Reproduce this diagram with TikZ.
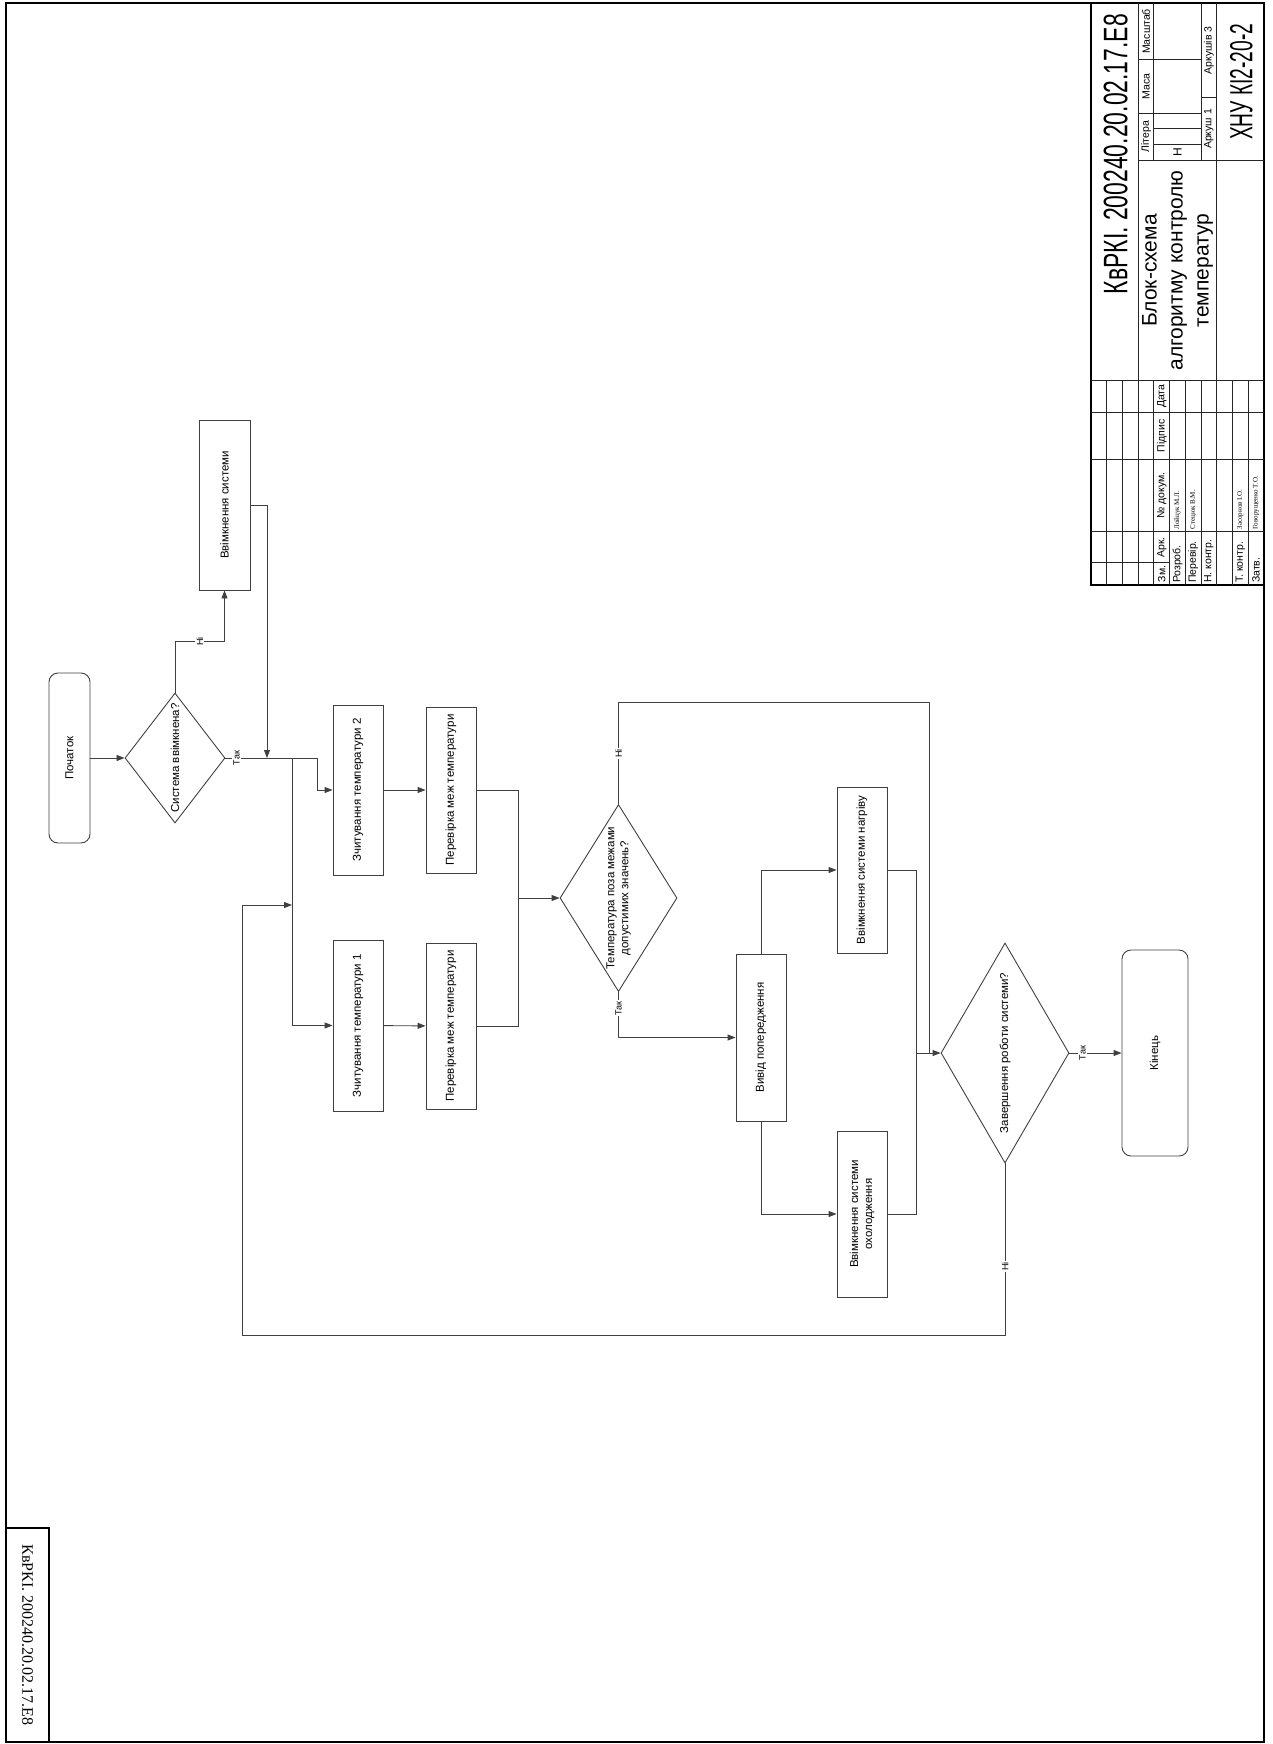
\documentclass[tikz,border=0pt]{standalone}
\usepackage{fontspec}
\usepackage{graphicx}
\setmainfont{Liberation Sans}
\newfontfamily\serifname{Liberation Serif}
\usetikzlibrary{shapes.geometric,arrows.meta}

\tikzset{
  block/.style={draw=black!75, line width=0.9pt, rotate=90, minimum width=170pt,
    minimum height=50pt, align=center, inner sep=2pt, font=\fontsize{11.5}{14}\selectfont},
  term/.style={block, rounded corners=9pt},
  decision/.style={draw=black!75, line width=0.9pt, diamond, rotate=90, inner sep=0pt,
    align=center, font=\fontsize{11.5}{14}\selectfont},
  line/.style={draw=black!75, line width=0.9pt},
  arrow/.style={line, -{Triangle[length=8pt,width=6pt]}},
  lbl/.style={rotate=90, fill=white, inner sep=1pt, font=\fontsize{9}{9}\selectfont},
  cell/.style={rotate=90, inner sep=0pt, font=\fontsize{10.5}{11}\selectfont},
  person/.style={cell, anchor=west, font=\serifname\fontsize{7}{8}\selectfont},
  sheet/.style={draw=black, line width=1.6pt},
  grid line/.style={draw=black!85, line width=1pt}
}

\begin{document}
\begin{tikzpicture}[x=1pt, y={(0pt,-1pt)}]
  \useasboundingbox (0,0) rectangle (1273,1744);

  % sheet frame and stamp
  \draw[sheet] (6,3) rectangle (1264,1742);
  \draw[sheet] (6,1528) rectangle (49,1742);
  \node[rotate=-90, font=\serifname\fontsize{16}{16}\selectfont] (stamp) at (27.5,1635) {КвРКІ. 200240.20.02.17.Е8};

  % flowchart
  \node[term, minimum height=41pt] (start) at (69.5,758) {Початок};
  \node[decision, minimum width=130pt, minimum height=100pt, shape aspect=1.3] (sys) at (175,758) {Система ввімкнена?};
  \node[block, minimum height=51pt] (on) at (224.5,505) {Ввімкнення системи};
  \node[block] (read2) at (358,790) {Зчитування температури 2};
  \node[block, minimum width=166pt] (check2) at (451,790) {Перевірка меж температури};
  \node[block, minimum width=171pt] (read1) at (358,1025.5) {Зчитування температури 1};
  \node[block, minimum width=166pt] (check1) at (451,1026) {Перевірка меж температури};
  \node[decision, minimum width=187pt, minimum height=117pt, shape aspect=1.6] (range) at (618.5,898) {Температура поза межами\\допустимих значень?};
  \node[block, minimum width=167pt] (warn) at (761,1037.5) {Вивід попередження};
  \node[block, minimum width=166pt] (heat) at (862,870) {Ввімкнення системи нагріву};
  \node[block, minimum width=166pt] (cool) at (862,1214) {Ввімкнення системи\\охолодження};
  \node[decision, minimum width=220pt, minimum height=128pt, shape aspect=1.7] (finish) at (1005,1053) {Завершення роботи системи?};
  \node[term, minimum width=206pt, minimum height=66pt] (stop) at (1155,1053) {Кінець};

  \coordinate (onj) at (267,758);
  \coordinate (bus) at (292,758);
  \coordinate (mrg) at (518,898);
  \coordinate (hn) at (929,1053);
  \coordinate (jn) at (916,1053);
  \coordinate (lp) at (242,1335);
  \coordinate (bk) at (292,905);

  \draw[arrow] (start) -- (sys);
  \draw[arrow] (sys.east) -- ++(0,-51) -| node[lbl, pos=0.25] {Ні} (on.west);
  \draw[arrow] (on.south) -| (onj);
  \draw[arrow] (sys.south) -- node[lbl, pos=0.12] {Так} ++(92,0) |- (read2.north);
  \draw[arrow] (bus) |- (read1.north);
  \draw[arrow] (read2) -- (check2);
  \draw[arrow] (read1) -- (check1);
  \draw[arrow] (check2.south) -| (mrg) -- (range.north);
  \draw[line] (check1.south) -| (mrg);
  \draw[arrow] (range.west) |- node[lbl, pos=0.18] {Так} (warn.north);
  \draw[line] (range.east) -- node[lbl] {Ні} ++(0,-101.5) -| (hn);
  \draw[arrow] (warn.east) |- (heat.north);
  \draw[arrow] (warn.west) |- (cool.north);
  \draw[line] (heat.south) -| (jn);
  \draw[line] (cool.south) -| (jn);
  \draw[arrow] (jn) -- (finish.north);
  \draw[arrow] (finish.south) -- node[lbl, pos=0.25] {Так} (stop.north);
  \draw[arrow] (finish.west) |- node[lbl, pos=0.3] {Ні} (lp) |- (bk);

  % title block
  \begin{scope}[shift={(1091,585)}, x={(3.145pt,0pt)}, y={(0pt,3.145pt)}]
    \draw[sheet] (0,0) rectangle (55,185);
    \foreach \r in {5,10,...,50} \draw[grid line] (\r,0) -- (\r,65);
    \foreach \c in {17,40,55,65} \draw[grid line] (0,\c) -- (55,\c);
    \draw[grid line] (0,7) -- (25,7);
    \draw[grid line] (15,65) -- (15,185);
    \draw[grid line] (40,65) -- (40,185);
    \draw[grid line] (15,135) -- (55,135);
    \draw[grid line] (20,135) -- (20,185);
    \draw[grid line] (35,135) -- (35,185);
    \foreach \c in {150,167} \draw[grid line] (15,\c) -- (35,\c);
    \foreach \c in {140,145} \draw[grid line] (20,\c) -- (35,\c);
    \draw[grid line] (35,155) -- (40,155);

    \node[cell, font=\fontsize{34}{34}\selectfont] (code) at (7.8,137) {\scalebox{0.675}[1]{КвРКІ. 200240.20.02.17.Е8}};
    \node[cell, align=center, font=\fontsize{21}{26}\selectfont] (title) at (27.5,100) {Блок-схема\\алгоритму контролю\\температур};
    \node[cell] (lit) at (17.5,142.5) {Літера};
    \node[cell] (mass) at (17.5,158.5) {Маса};
    \node[cell] (scl) at (17.5,176) {Масштаб};
    \node[cell, font=\fontsize{12}{12}\selectfont] (litn) at (27.5,137.5) {Н};
    \node[cell] (shno) at (37.5,145) {Аркуш 1};
    \node[cell] (shtot) at (37.5,170) {Аркушів 3};
    \node[cell, font=\fontsize{32}{32}\selectfont] (org) at (47.8,160) {\scalebox{0.6}[1]{ХНУ КІ2-20-2}};

    \node[cell] (hzm) at (22.5,3.5) {Зм.};
    \node[cell] (hark) at (22.5,12) {Арк.};
    \node[cell] (hdoc) at (22.5,28.5) {№ докум.};
    \node[cell] (hsig) at (22.5,47.5) {Підпис};
    \node[cell] (hdate) at (22.5,60) {Дата};
    \node[cell, anchor=west] (rdev) at (27.5,0.6) {Розроб.};
    \node[cell, anchor=west] (rchk) at (32.5,0.6) {Перевір.};
    \node[cell, anchor=west] (rnk) at (37.5,0.6) {Н. контр.};
    \node[cell, anchor=west] (rtk) at (47.5,0.6) {Т. контр.};
    \node[cell, anchor=west] (rapp) at (52.5,0.6) {Затв.};
    \node[person] (pdev) at (27.5,17.6) {Лойцук М.Л.};
    \node[person] (pchk) at (32.5,17.6) {Стецюк В.М.};
    \node[person] (ptk) at (47.5,17.6) {Засорнов І.О.};
    \node[person] (papp) at (52.5,17.6) {Говорущенко Т.О.};
  \end{scope}
\end{tikzpicture}
\end{document}
